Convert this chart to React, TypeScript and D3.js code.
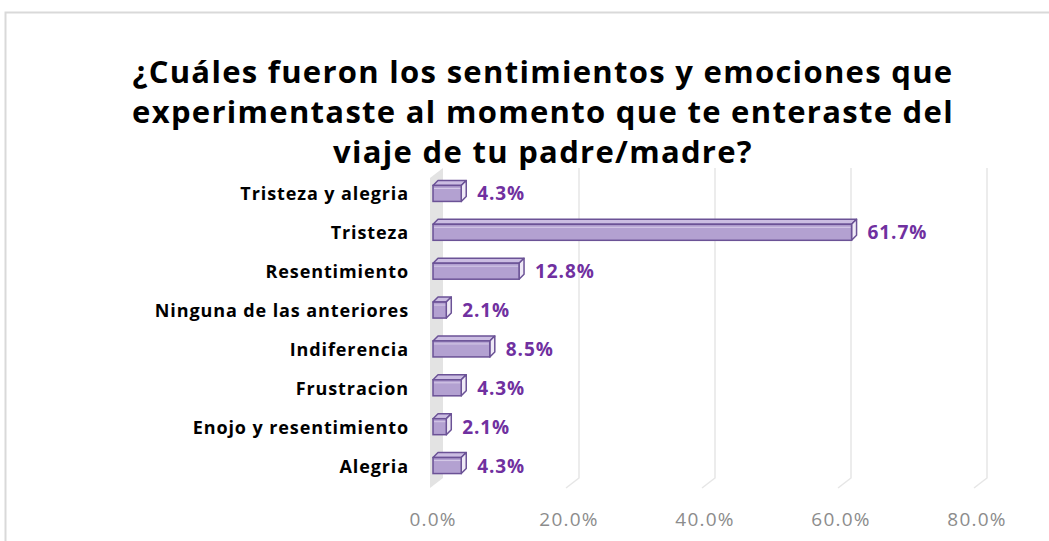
import React from "react";
import * as d3 from "d3";

const categories = [
  "Tristeza y alegria",
  "Tristeza",
  "Resentimiento",
  "Ninguna de las anteriores",
  "Indiferencia",
  "Frustracion",
  "Enojo y resentimiento",
  "Alegria",
];
const values = [4.3, 61.7, 12.8, 2.1, 8.5, 4.3, 2.1, 4.3];
const ticks = [0, 20, 40, 60, 80];
const titleLines = [
  "¿Cuáles fueron los sentimientos y emociones que",
  "experimentaste al momento que te enteraste del",
  "viaje de tu padre/madre?",
];

const W = 1049;
const H = 541;
const FONT = "'Open Sans', Lato, sans-serif";

export default function App() {
  const x = d3.scaleLinear().domain([0, 80]).range([432, 976]);
  const y = d3.scaleBand<string>().domain(categories).range([174, 485]);
  const depthX = 13;
  const depthY = 10;
  const gridTop = 168;
  const gridBottom = 478;
  const barH = 16;
  const bd = 5; // bar depth offset
  const fmt = (v: number) => v.toFixed(1) + "%";

  return (
    <svg width={W} height={H} style={{ position: "absolute", left: 0, top: 0 }}>
      <rect x={0} y={0} width={W} height={H} fill="#ffffff" />
      <rect x={5.5} y={12.5} width={W + 20} height={H + 20} fill="#ffffff" stroke="#d9d9d9" strokeWidth={2} />

      {titleLines.map((t, i) => (
        <text
          key={i}
          x={543}
          y={83 + i * 40}
          textAnchor="middle"
          fontFamily={FONT}
          fontWeight={700}
          fontSize={31}
          letterSpacing={1.3}
          fill="#000000"
        >
          {t}
        </text>
      ))}

      {/* side wall */}
      <polygon
        points={[
          [x(0) - 2, gridTop + depthY],
          [x(0) - 2 + depthX, gridTop],
          [x(0) - 2 + depthX, gridBottom],
          [x(0) - 2, gridBottom + depthY],
        ]
          .map((p) => p.join(","))
          .join(" ")}
        fill="#e3e3e3"
      />

      {/* gridlines */}
      {ticks.slice(1).map((t) => (
        <path
          key={t}
          d={`M${x(t) + depthX - 2},${gridTop} V${gridBottom} L${x(t) - 2},${gridBottom + depthY}`}
          fill="none"
          stroke="#e6e6e6"
          strokeWidth={1.5}
        />
      ))}

      {/* tick labels */}
      {ticks.map((t) => (
        <text
          key={t}
          x={x(t) + 1}
          y={526}
          textAnchor="middle"
          fontFamily={FONT}
          fontSize={19}
          letterSpacing={1.2}
          fill="#8c8c8c"
        >
          {fmt(t)}
        </text>
      ))}

      {/* bars */}
      {categories.map((c, i) => {
        const cy = (y(c) as number) + y.bandwidth() / 2;
        const x0 = x(0) + 1;
        const x1 = x(values[i]);
        const yt = cy - barH / 2;
        const yb = cy + barH / 2;
        return (
          <g key={c}>
            <polygon
              points={`${x0},${yt} ${x0 + bd},${yt - bd} ${x1 + bd},${yt - bd} ${x1},${yt}`}
              fill="#cbbde2"
              stroke="#6b5296"
              strokeWidth={1.5}
              strokeLinejoin="round"
            />
            <polygon
              points={`${x1},${yt} ${x1 + bd},${yt - bd} ${x1 + bd},${yb - bd} ${x1},${yb}`}
              fill="#efeaf6"
              stroke="#6b5296"
              strokeWidth={1.5}
              strokeLinejoin="round"
            />
            <rect
              x={x0}
              y={yt}
              width={x1 - x0}
              height={barH}
              fill="#b3a1d1"
              stroke="#6b5296"
              strokeWidth={1.5}
            />
            <line x1={x0 + 1} x2={x1 - 1} y1={yt + 3} y2={yt + 3} stroke="#d6cbe8" strokeWidth={1} />
            <text
              x={x1 + 16}
              y={cy + 7}
              fontFamily={FONT}
              fontWeight={700}
              fontSize={19}
              letterSpacing={0.9}
              fill="#7030a0"
            >
              {fmt(values[i])}
            </text>
            <text
              x={409}
              y={cy + 7}
              textAnchor="end"
              fontFamily={FONT}
              fontWeight={700}
              fontSize={18}
              letterSpacing={0.9}
              fill="#000000"
            >
              {c}
            </text>
          </g>
        );
      })}
    </svg>
  );
}
